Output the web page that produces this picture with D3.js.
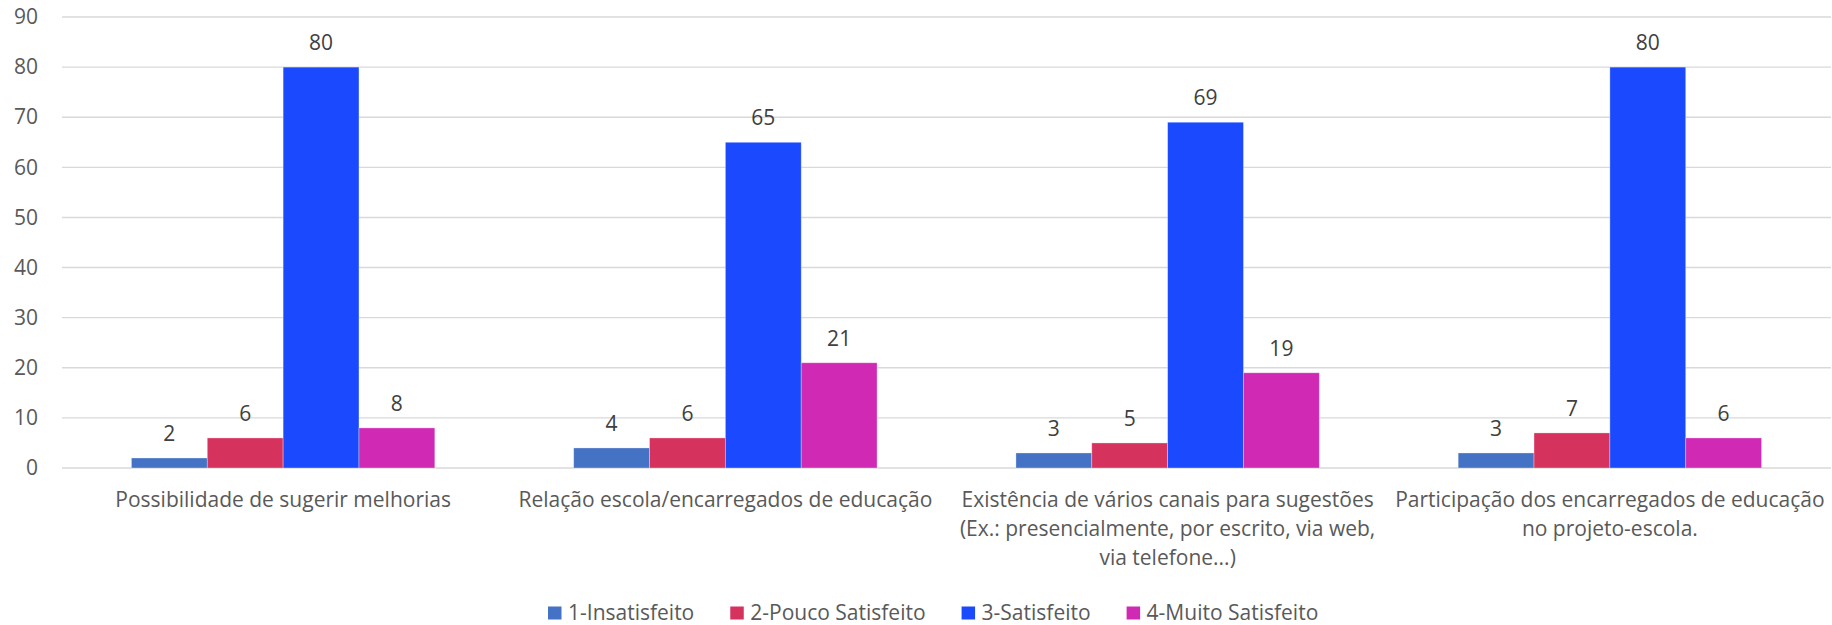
<!DOCTYPE html>
<html lang="pt">
<head>
    <meta charset="UTF-8">
    <title>Satisfação</title>
    <script src="https://cdn.jsdelivr.net/npm/d3@7/dist/d3.min.js"></script>
    <style>
        body { margin: 0; background: #fff; }
        svg { display: block; font-family: "Open Sans", sans-serif; }
        .grid line { stroke: #d9d9d9; stroke-width: 1.4; }
        .yaxis text { fill: #595959; font-size: 21px; }
        .cat text { fill: #595959; font-size: 21px; }
        .vals text { fill: #404040; font-size: 21px; }
        .legend text { fill: #595959; font-size: 21px; }
    </style>
</head>
<body>
<svg width="1832" height="625"></svg>

<script>
    var categories = [
        ["Possibilidade de sugerir melhorias"],
        ["Relação escola/encarregados de educação"],
        ["Existência de vários canais para sugestões", "(Ex.: presencialmente, por escrito, via web,", "via telefone...)"],
        ["Participação dos encarregados de educação", "no projeto-escola."]
    ];
    var seriesNames = ["1-Insatisfeito", "2-Pouco Satisfeito", "3-Satisfeito", "4-Muito Satisfeito"];
    var seriesColors = ["#4472c4", "#d5335e", "#1b4afe", "#d02ab5"];
    var insatisfeito = [2, 4, 3, 3];
    var poucoSatisfeito = [6, 6, 5, 7];
    var satisfeito = [80, 65, 69, 80];
    var muitoSatisfeito = [8, 21, 19, 6];
    var yTicks = [0, 10, 20, 30, 40, 50, 60, 70, 80, 90];

    var series = [insatisfeito, poucoSatisfeito, satisfeito, muitoSatisfeito];

    var svg = d3.select("svg");
    var plotLeft = 62, plotRight = 1831, plotTop = 17, plotBottom = 468;

    var x0 = d3.scaleBand()
        .domain(d3.range(categories.length))
        .range([plotLeft, plotRight])
        .paddingInner(0.314)
        .paddingOuter(0.157);

    var x1 = d3.scaleBand()
        .domain(d3.range(series.length))
        .range([0, x0.bandwidth()]);

    var y = d3.scaleLinear().domain([0, 90]).range([plotBottom, plotTop]);

    // gridlines
    svg.append("g").attr("class", "grid")
        .selectAll("line")
        .data(yTicks)
        .enter().append("line")
        .attr("x1", plotLeft).attr("x2", plotRight)
        .attr("y1", function (d) { return y(d); })
        .attr("y2", function (d) { return y(d); });

    // y axis labels
    var yAxis = svg.append("g").attr("class", "yaxis")
        .attr("transform", "translate(" + (plotLeft - 24) + ",0)")
        .call(d3.axisLeft(y).tickValues(yTicks).tickSize(0).tickPadding(0));
    yAxis.select(".domain").remove();
    yAxis.attr("font-family", null).attr("font-size", null);

    // bars
    var groups = svg.append("g").selectAll("g")
        .data(categories)
        .enter().append("g")
        .attr("transform", function (d, i) { return "translate(" + x0(i) + ",0)"; });

    function rows(d, i) {
        return series.map(function (s, j) { return {s: j, v: s[i]}; });
    }

    groups.selectAll("rect")
        .data(rows)
        .enter().append("rect")
        .attr("x", function (d) { return x1(d.s); })
        .attr("width", x1.bandwidth())
        .attr("y", function (d) { return y(d.v); })
        .attr("height", function (d) { return y(0) - y(d.v); })
        .attr("fill", function (d) { return seriesColors[d.s]; })
        .attr("stroke", "#fff")
        .attr("stroke-opacity", 0.4)
        .attr("stroke-width", 0.8);

    // value labels
    groups.append("g").attr("class", "vals")
        .selectAll("text")
        .data(rows)
        .enter().append("text")
        .attr("text-anchor", "middle")
        .attr("x", function (d) { return x1(d.s) + x1.bandwidth() / 2; })
        .attr("y", function (d) { return y(d.v) - 17; })
        .text(function (d) { return d.v; });

    // category labels
    var cat = svg.append("g").attr("class", "cat");
    categories.forEach(function (lines, i) {
        var cx = x0(i) + x0.bandwidth() / 2;
        var t = cat.append("text")
            .attr("text-anchor", "middle")
            .attr("x", cx)
            .attr("y", 507);
        lines.forEach(function (line, k) {
            t.append("tspan")
                .attr("x", cx)
                .attr("dy", k === 0 ? 0 : 29)
                .text(line);
        });
    });

    // legend, laid out left to right from measured text widths
    var legend = svg.append("g").attr("class", "legend");
    var lx = 548;
    seriesNames.forEach(function (name, i) {
        legend.append("rect")
            .attr("x", lx).attr("y", 606.5)
            .attr("width", 13.5).attr("height", 13)
            .attr("fill", seriesColors[i]);
        var t = legend.append("text")
            .attr("x", lx + 20).attr("y", 619.5)
            .text(name);
        lx += 20 + t.node().getComputedTextLength() + 36;
    });
</script>
</body>
</html>
